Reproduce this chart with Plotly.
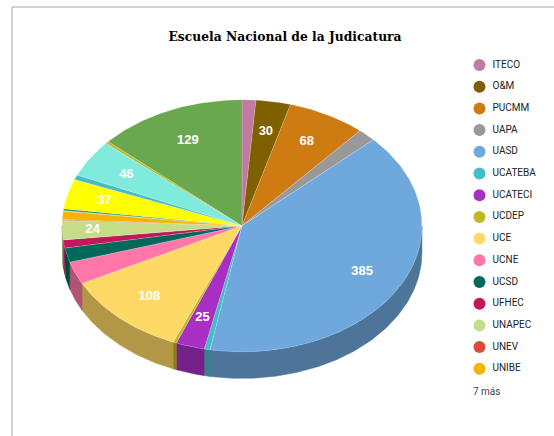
import math
import plotly.graph_objects as go

# ---- data ----
categories = ["ITECO", "O&M", "PUCMM", "UAPA", "UASD", "UCATEBA", "UCATECI", "UCDEP",
              "UCE", "UCNE", "UCSD", "UFHEC", "UNAPEC", "UNEV", "UNIBE",
              "Otra 1", "Otra 2", "Otra 3", "Otra 4", "Otra 5", "Otra 6", "Otra 7"]
values = [12, 30, 68, 16, 385, 5, 25, 3, 108, 28, 18, 10, 24, 1, 10, 1, 2, 37, 6, 46, 3, 129]
colors = ["#c27ba0", "#7f6000", "#ce7b11", "#999999", "#6fa8dc", "#46bdc6", "#a92fc4", "#c0b91f",
          "#ffd966", "#ff77a8", "#00695c", "#c2185b", "#c5dc88", "#dd4b39", "#f4b400",
          "#ea9999", "#0f9d58", "#ffff00", "#46bdc6", "#7eebdc", "#c0b91f", "#6aa84f"]
labelled = ["O&M", "PUCMM", "UASD", "UCATECI", "UCE", "UNAPEC", "Otra 3", "Otra 5", "Otra 7"]
title = "Escuela Nacional de la Judicatura"
more_text = "7 más"
n_legend = 15

# ---- geometry (pixels of the axes) ----
CX, CY, RX, RY, DEPTH = 242.0, 225.8, 180.0, 126.0, 26.6
W, H = 554, 436
SIDE_SHADE = 0.70
LABEL_F = 0.76
LABEL_F_SPECIAL = {"UNAPEC": 0.83, "Otra 3": 0.79, "Otra 7": 0.74}
LEG_X, LEG_TEXT_X, LEG_Y0, LEG_STEP = 479.5, 492.5, 65.0, 21.7


def pt(a, dy=0.0, f=1.0):
    r = math.radians(a)
    return CX + f * RX * math.sin(r), CY - f * RY * math.cos(r) + dy


def shade(h, k):
    return "#%02x%02x%02x" % tuple(int(int(h[i:i + 2], 16) * k) for i in (1, 3, 5))


def arc(a0, a1, dy=0.0):
    n = max(2, int(abs(a1 - a0)) + 2)
    return [pt(a0 + (a1 - a0) * i / (n - 1), dy) for i in range(n)]


total = sum(values)
angles = [0.0]
for v in values:
    angles.append(angles[-1] + v * 360.0 / total)

fig = go.Figure()

# side wall
for i, name in enumerate(categories):
    a0, a1 = max(angles[i], 90), min(angles[i + 1], 270)
    if a1 <= a0:
        continue
    poly = arc(a0, a1) + arc(a1, a0, DEPTH)
    poly.append(poly[0])
    side = shade(colors[i], SIDE_SHADE)
    fig.add_trace(go.Scatter(x=[p[0] for p in poly], y=[p[1] for p in poly], mode="lines",
                             fill="toself", fillcolor=side, line=dict(color=side, width=0.5),
                             showlegend=False, hoverinfo="skip"))

# top face
for i, name in enumerate(categories):
    poly = [(CX, CY)] + arc(angles[i], angles[i + 1]) + [(CX, CY)]
    fig.add_trace(go.Scatter(x=[p[0] for p in poly], y=[p[1] for p in poly], mode="lines",
                             fill="toself", fillcolor=colors[i],
                             line=dict(color="rgba(255,255,255,0.35)", width=0.5),
                             name=name, text=f"{name}: {values[i]}", hoverinfo="text",
                             hoveron="fills", showlegend=False))

# value labels
lx, ly, lt = [], [], []
for i, name in enumerate(categories):
    if name in labelled:
        x, y = pt((angles[i] + angles[i + 1]) / 2, f=LABEL_F_SPECIAL.get(name, LABEL_F))
        lx.append(x); ly.append(y); lt.append(str(values[i]))
fig.add_trace(go.Scatter(x=lx, y=ly, text=lt, mode="text", showlegend=False, hoverinfo="skip",
                         textfont=dict(family="Liberation Sans", size=13, color="white", weight="bold")))

# legend: circles and names, one row per category
rows = [LEG_Y0 + LEG_STEP * i for i in range(n_legend)]
fig.add_trace(go.Scatter(x=[LEG_X] * n_legend, y=rows, mode="markers", showlegend=False,
                         hoverinfo="skip",
                         marker=dict(size=12, color=colors[:n_legend], symbol="circle")))
fig.add_trace(go.Scatter(x=[LEG_TEXT_X] * n_legend, y=rows, mode="text", showlegend=False,
                         hoverinfo="skip", text=categories[:n_legend], textposition="middle right",
                         textfont=dict(family="Roboto", size=10, color="#222222")))

fig.update_layout(
    width=W, height=H, autosize=False,
    margin=dict(l=0, r=0, t=0, b=0, autoexpand=False),
    paper_bgcolor="white", plot_bgcolor="white", showlegend=False,
    xaxis=dict(range=[0, W], visible=False, fixedrange=True),
    yaxis=dict(range=[H, 0], visible=False, fixedrange=True),
    title=dict(text=title, x=285 / W, xanchor="center", y=1 - 37.0 / H, yanchor="middle",
               font=dict(family="DejaVu Serif", size=12.3, color="#000000", weight="bold")),
    annotations=[dict(text=more_text, x=471, y=391, xref="x", yref="y", xanchor="left",
                      yanchor="middle", showarrow=False,
                      font=dict(family="Roboto", size=10, color="#444444"))],
    shapes=[dict(type="line", xref="x", yref="y", x0=12, x1=12, y0=7, y1=H,
                 line=dict(color="#a6a6a6", width=1)),
            dict(type="line", xref="x", yref="y", x0=12, x1=W, y0=7, y1=7,
                 line=dict(color="#a6a6a6", width=1))],
)
fig.write_html("out.html", config={"displayModeBar": False},
               post_script="document.body.style.margin='0';")
